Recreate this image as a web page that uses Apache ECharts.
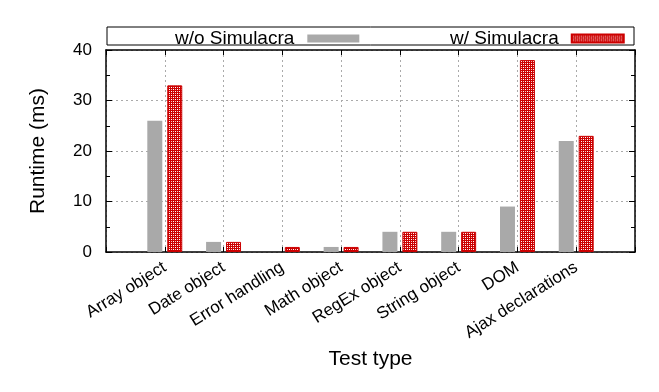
<!DOCTYPE html>
<html><head><meta charset="utf-8">
<script src="https://cdn.jsdelivr.net/npm/echarts@6/dist/echarts.min.js"></script>
<style>html,body{margin:0;padding:0;background:#fff}#c{width:659px;height:392px}</style>
</head><body><div id="c"></div>
<script>
var categories = ['Array object','Date object','Error handling','Math object','RegEx object','String object','DOM','Ajax declarations'];
var withoutSim = [26, 2, 0, 1, 4, 4, 9, 22];
var withSim = [33, 2, 1, 1, 4, 4, 38, 23];
var yTicks = [0, 10, 20, 30, 40];
var seriesNames = ['w/o Simulacra', 'w/ Simulacra'];

var tile = document.createElement('canvas');
tile.width = 4; tile.height = 4;
var g = tile.getContext('2d');
g.fillStyle = '#cc0000'; g.fillRect(0,0,4,4);
g.fillStyle = '#ffffff'; g.fillRect(1,1,1,1); g.fillRect(3,3,1,1);
g.fillStyle = '#f4c4c4'; g.fillRect(1,3,1,1); g.fillRect(3,1,1,1);

var chart = echarts.init(document.getElementById('c'), null, {renderer:'canvas'});
var font = 'Liberation Sans, Arial, sans-serif';
var pair = function(arr){ return arr.map(function(v,i){ return [i, v]; }); };
var catAxisBase = {
  type:'value', min:-1, max:8, interval:1,
  axisLine:{show:true, onZero:false, lineStyle:{color:'#000', width:1.5}},
  axisTick:{show:true, inside:true, length:5, lineStyle:{color:'#000'}}
};
var valAxisBase = {
  type:'value', min:yTicks[0], max:yTicks[yTicks.length-1], interval:10,
  axisLine:{show:true, onZero:false, lineStyle:{color:'#000', width:1.5}},
  axisTick:{show:true, inside:true, length:6, lineStyle:{color:'#000'}},
  minorTick:{show:true, splitNumber:2, length:4, lineStyle:{color:'#000'}}
};
chart.setOption({
  animation:false,
  textStyle:{fontFamily:font},
  grid:{left:106, right:24, top:50, bottom:140, containLabel:false},
  graphic:[{type:'rect', shape:{x:107, y:27, width:527, height:18}, style:{fill:'none', stroke:'#000', lineWidth:1}, z:0}],
  legend:[
    {data:[seriesNames[0]], left:170, top:24, align:'right', icon:'rect', itemWidth:52, itemHeight:8,
     textStyle:{fontSize:19, color:'#000', fontFamily:font, padding:[0,8,0,0]}},
    {data:[seriesNames[1]], left:445, top:24, align:'right', icon:'rect', itemWidth:52, itemHeight:8,
     textStyle:{fontSize:19, color:'#000', fontFamily:font, padding:[0,8,0,0]}}
  ],
  xAxis:[
    Object.assign({}, catAxisBase, {
      position:'bottom',
      name:'Test type', nameLocation:'middle', nameGap:96,
      nameTextStyle:{fontSize:21, color:'#000', fontFamily:font},
      axisLabel:{rotate:32, margin:14, fontSize:17, color:'#000', fontFamily:font,
        formatter:function(v){ return categories[v] !== undefined ? categories[v] : ''; }},
      splitLine:{show:true, lineStyle:{color:'#aaa', type:[2,3], width:1}}
    }),
    Object.assign({}, catAxisBase, {position:'top', axisLabel:{show:false}, splitLine:{show:false}})
  ],
  yAxis:[
    Object.assign({}, valAxisBase, {position:'left',
     name:'Runtime (ms)', nameLocation:'middle', nameGap:57,
     nameTextStyle:{fontSize:21, color:'#000', fontFamily:font},
     axisLabel:{fontSize:17, color:'#000', margin:14, fontFamily:font},
     splitLine:{show:true, lineStyle:{color:'#aaa', type:[2,3], width:1}}}),
    Object.assign({}, valAxisBase, {position:'right', axisLabel:{show:false}, splitLine:{show:false}})
  ],
  series:[
    {name:seriesNames[0], type:'bar', data:pair(withoutSim), barWidth:15, barGap:'33%',
     itemStyle:{color:'#a9a9a9'}},
    {name:seriesNames[1], type:'bar', data:pair(withSim), barWidth:15, barGap:'33%',
     itemStyle:{color:{image:tile, repeat:'repeat'}, borderColor:'#cc0000', borderWidth:1}}
  ]
});
</script></body></html>
